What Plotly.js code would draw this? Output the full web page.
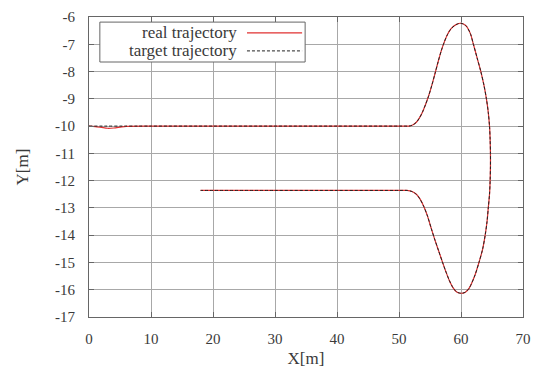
<!DOCTYPE html>
<html>
<head>
<meta charset="utf-8">
<script src="https://cdn.plot.ly/plotly-3.0.1.min.js"></script>
<style>html,body{margin:0;padding:0;background:#fff;}#chart{width:533px;height:378px;}</style>
</head>
<body>
<div id="chart"></div>
<script>
// Target trajectory
var targetX = [0, 10, 20, 30, 40, 50, 51, 51.6, 52.2, 52.8, 53.3, 53.8, 54.3, 54.8, 55.3, 55.8, 56.3, 56.8, 57.3, 57.8, 58.4, 59.2, 60, 60.8, 61.5, 62.0, 62.6, 63.2, 63.7, 64.1, 64.4, 64.6, 64.7, 64.75, 64.75, 64.7, 64.6, 64.4, 64.2, 63.9, 63.5, 62.9, 62.2, 61.3, 60.7, 60, 59.3, 58.7, 58.1, 57.5, 57.0, 56.4, 55.8, 55.2, 54.6, 54.0, 53.4, 52.8, 52.1, 51.3, 50, 40, 30, 18];
var targetY = [-10, -10, -10, -10, -10, -10, -10, -10, -9.96, -9.86, -9.7, -9.48, -9.2, -8.88, -8.5, -8.08, -7.65, -7.25, -6.92, -6.65, -6.43, -6.28, -6.23, -6.32, -6.6, -7.0, -7.5, -8.0, -8.5, -9.0, -9.5, -10.0, -10.5, -11.0, -11.5, -12.0, -12.5, -13.0, -13.5, -14.0, -14.5, -15.0, -15.5, -15.95, -16.09, -16.13, -16.08, -15.92, -15.65, -15.3, -14.98, -14.58, -14.18, -13.75, -13.3, -12.95, -12.68, -12.5, -12.4, -12.36, -12.36, -12.36, -12.36, -12.36];

// Real trajectory
var realX = [0, 1, 2, 3, 4, 5, 6, 10, 20, 30, 40, 50, 51, 51.6, 52.2, 52.8, 53.3, 53.8, 54.3, 54.8, 55.3, 55.8, 56.3, 56.8, 57.3, 57.8, 58.4, 59.2, 60, 60.8, 61.5, 62.0, 62.6, 63.2, 63.7, 64.1, 64.4, 64.6, 64.7, 64.75, 64.75, 64.7, 64.6, 64.4, 64.2, 63.9, 63.5, 62.9, 62.2, 61.3, 60.7, 60, 59.3, 58.7, 58.1, 57.5, 57.0, 56.4, 55.8, 55.2, 54.6, 54.0, 53.4, 52.8, 52.1, 51.3, 50, 40, 30, 18];
var realY = [-10, -10.02, -10.05, -10.08, -10.07, -10.04, -10.01, -10, -10, -10, -10, -10, -10, -10, -9.96, -9.86, -9.7, -9.48, -9.2, -8.88, -8.5, -8.08, -7.65, -7.25, -6.92, -6.65, -6.43, -6.28, -6.23, -6.32, -6.6, -7.0, -7.5, -8.0, -8.5, -9.0, -9.5, -10.0, -10.5, -11.0, -11.5, -12.0, -12.5, -13.0, -13.5, -14.0, -14.5, -15.0, -15.5, -15.95, -16.09, -16.13, -16.08, -15.92, -15.65, -15.3, -14.98, -14.58, -14.18, -13.75, -13.3, -12.95, -12.68, -12.5, -12.4, -12.36, -12.36, -12.36, -12.36, -12.36];

var seriesNames = ["real trajectory", "target trajectory"];
var xTicks = [0, 10, 20, 30, 40, 50, 60, 70];
var yTicks = [-6, -7, -8, -9, -10, -11, -12, -13, -14, -15, -16, -17];

var fontFam = "'Liberation Serif', 'DejaVu Serif', serif";
var txtColor = "#3a3a3a";

var traces = [
  {x: realX, y: realY, mode: "lines", name: seriesNames[0], line: {color: "#e03030", width: 1.2, shape: "spline", smoothing: 0.8}, showlegend: false},
  {x: targetX, y: targetY, mode: "lines", name: seriesNames[1], line: {color: "#222222", width: 1, dash: "3px,2px", shape: "spline", smoothing: 0.8}, showlegend: false}
];

var layout = {
  width: 533, height: 378,
  margin: {l: 89, r: 10, t: 17, b: 61},
  paper_bgcolor: "#fff", plot_bgcolor: "#fff",
  font: {family: fontFam, size: 14, color: txtColor},
  xaxis: {
    range: [0, 70], tickvals: xTicks, ticktext: xTicks.map(String),
    showgrid: true, gridcolor: "#a8a8a8", gridwidth: 1,
    showline: true, linecolor: "#666", linewidth: 1, mirror: "ticks",
    ticks: "inside", ticklen: 5, tickcolor: "#666",
    zeroline: false, ticklabelstandoff: 8,
    tickfont: {family: fontFam, size: 15, color: txtColor},
    title: {text: "X[m]", font: {family: fontFam, size: 17, color: txtColor}, standoff: 6}
  },
  yaxis: {
    range: [-17, -6], tickvals: yTicks, ticktext: yTicks.map(String),
    showgrid: true, gridcolor: "#a8a8a8", gridwidth: 1,
    showline: true, linecolor: "#666", linewidth: 1, mirror: "ticks",
    ticks: "inside", ticklen: 5, tickcolor: "#666",
    zeroline: false, ticklabelstandoff: 10,
    tickfont: {family: fontFam, size: 15, color: txtColor},
    title: {text: "Y[m]", font: {family: fontFam, size: 17, color: txtColor}, standoff: 22}
  },
  shapes: [
    {type: "rect", xref: "paper", yref: "paper", x0: 0.025, x1: 0.498, y0: 0.85, y1: 0.983, line: {color: "#666", width: 1}, fillcolor: "#fff", layer: "above"},
    {type: "line", xref: "paper", yref: "paper", x0: 0.364, x1: 0.491, y0: 0.947, y1: 0.947, line: {color: "#e03030", width: 1.2}},
    {type: "line", xref: "paper", yref: "paper", x0: 0.364, x1: 0.491, y0: 0.887, y1: 0.887, line: {color: "#222", width: 1, dash: "3px,2px"}}
  ],
  annotations: [
    {xref: "paper", yref: "paper", x: 0.346, y: 0.947, xanchor: "right", yanchor: "middle", text: seriesNames[0], showarrow: false, font: {family: fontFam, size: 17, color: txtColor}},
    {xref: "paper", yref: "paper", x: 0.346, y: 0.887, xanchor: "right", yanchor: "middle", text: seriesNames[1], showarrow: false, font: {family: fontFam, size: 17, color: txtColor}}
  ]
};

Plotly.newPlot("chart", traces, layout, {displayModeBar: false, staticPlot: true});
</script>
</body>
</html>
